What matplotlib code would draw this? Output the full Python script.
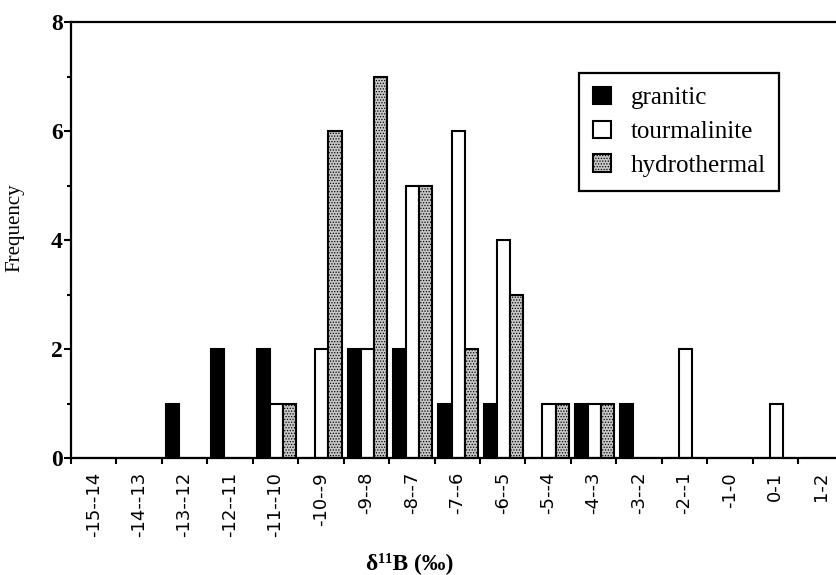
import numpy as np
import matplotlib.pyplot as plt

plt.rcParams['hatch.linewidth'] = 0.6

#------------------------------------------------------------data
bins = ['-15--14', '-14--13', '-13--12', '-12--11', '-11--10', '-10--9',
        '-9--8', '-8--7', '-7--6', '-6--5', '-5--4', '-4--3', '-3--2',
        '-2--1', '-1-0', '0-1', '1-2']
granitic = [0, 0, 1, 2, 2, 0, 2, 2, 1, 1, 0, 1, 1, 0, 0, 0, 0]
tourmalinite = [0, 0, 0, 0, 1, 2, 2, 5, 6, 4, 1, 1, 0, 2, 0, 1, 0]
hydrothermal = [0, 0, 0, 0, 1, 6, 7, 5, 2, 3, 1, 1, 0, 0, 0, 0, 0]

#------------------------------------------------------------figure
fig = plt.figure(figsize=(8.36, 5.75), dpi=100)
ax = fig.add_axes([71/836, 117/575, 772.5/836, 436/575])

x = np.arange(len(bins))
w = 0.29
sh = 0.02
ax.bar(x - w + sh, granitic, w, color='k', edgecolor='k', lw=1.5,
       label='granitic')
ax.bar(x + sh, tourmalinite, w, color='white', edgecolor='k', lw=1.5,
       label='tourmalinite')
ax.bar(x + w + sh, hydrothermal, w, color='#c8c8c8', edgecolor='k', lw=1.5,
       hatch='......', label='hydrothermal')

#------------------------------------------------------------axes
ax.set_xlim(-0.5, len(bins) - 0.5)
ax.set_ylim(0, 8)
for s in ax.spines.values():
    s.set_linewidth(1.6)

ax.set_xticks(np.arange(-0.5, len(bins)))
ax.set_xticklabels([])
ax.set_xticks(x, minor=True)
ax.set_xticklabels(bins, minor=True, rotation=90, fontsize=13,
                   family='DejaVu Sans')
ax.tick_params(axis='x', which='major', direction='out', length=4, width=1.5)
ax.tick_params(axis='x', which='minor', length=0, pad=10)

ax.set_yticks([0, 2, 4, 6, 8])
ax.set_yticks([1, 3, 5, 7], minor=True)
ax.set_yticklabels(['0', '2', '4', '6', '8'], fontsize=17,
                   family='Liberation Serif', weight='bold')
ax.tick_params(axis='y', which='major', direction='out', length=5, width=1.5,
               pad=1)
ax.tick_params(axis='y', which='minor', direction='out', length=3, width=1.5)

#------------------------------------------------------------labels
ax.set_ylabel('Frequency', fontsize=15, family='Liberation Serif')
ax.yaxis.set_label_coords(-0.0725, 0.528)
ax.yaxis.label.set_va('center')
ax.set_xlabel('δ¹¹B (‰)', fontsize=17, family='Liberation Serif',
              weight='bold')
ax.xaxis.set_label_coords(0.439, -0.241)
ax.xaxis.label.set_va('center')

#------------------------------------------------------------legend
leg = ax.legend(loc='upper left', bbox_to_anchor=(0.658, 0.883),
                borderaxespad=0, fancybox=False, framealpha=1,
                handlelength=0.7, handleheight=0.7, handletextpad=0.8,
                labelspacing=0.45, borderpad=0.55,
                prop={'family': 'Liberation Serif', 'size': 18})
leg.get_frame().set_edgecolor('k')
leg.get_frame().set_linewidth(1.6)

fig.savefig('out.png', dpi=100)
